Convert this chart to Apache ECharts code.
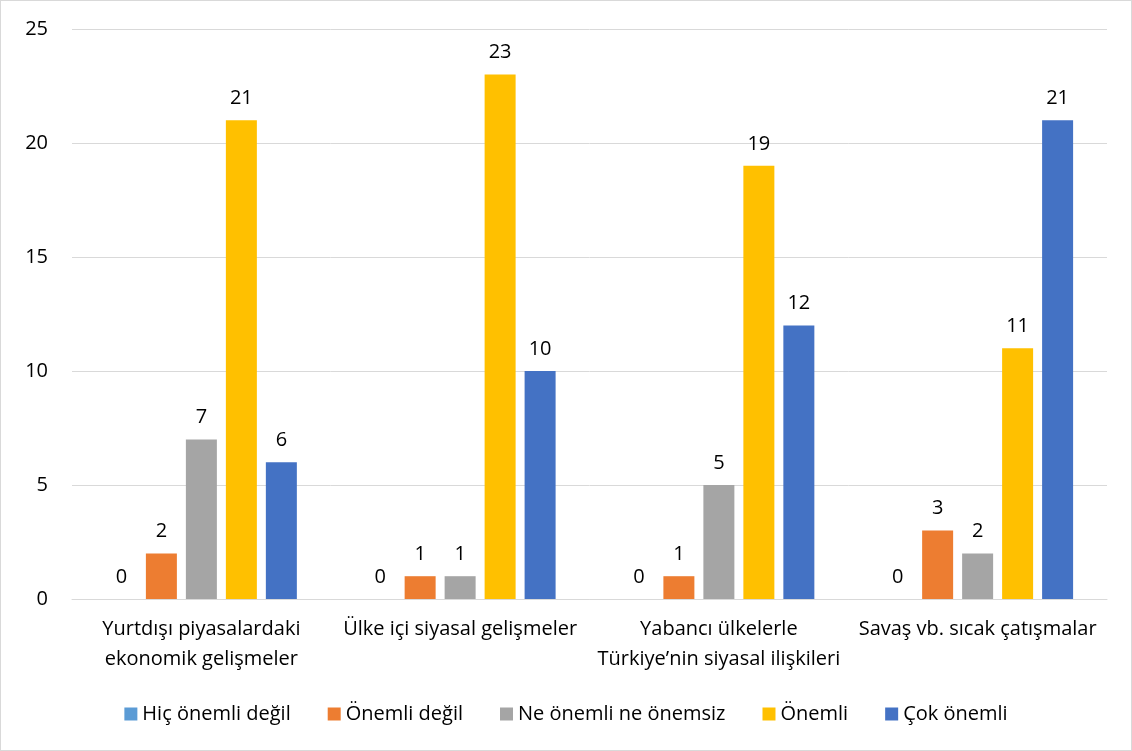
<!DOCTYPE html>
<html>
<head>
<meta charset="utf-8">
<script src="https://cdn.jsdelivr.net/npm/echarts@6/dist/echarts.min.js"></script>
<style>
  html, body { margin: 0; padding: 0; background: #fff; }
  #chart { width: 1132px; height: 751px; box-sizing: border-box; border: 1px solid #d9d9d9; }
</style>
</head>
<body>
<div id="chart"></div>
<script>
// kategoriler ve seriler
const categories = [
  'Yurtdışı piyasalardaki\nekonomik gelişmeler',
  'Ülke içi siyasal gelişmeler',
  'Yabancı ülkelerle\nTürkiye’nin siyasal ilişkileri',
  'Savaş vb. sıcak çatışmalar'
];
const seriesNames = ['Hiç önemli değil', 'Önemli değil', 'Ne önemli ne önemsiz', 'Önemli', 'Çok önemli'];
const hicOnemliDegil = [0, 0, 0, 0];
const onemliDegil = [2, 1, 1, 3];
const neOnemliNeOnemsiz = [7, 1, 5, 2];
const onemli = [21, 23, 19, 11];
const cokOnemli = [6, 10, 12, 21];
const yTicks = [0, 5, 10, 15, 20, 25];

const colors = ['#5B9BD5', '#ED7D31', '#A5A5A5', '#FFC000', '#4472C4'];
const allValues = [hicOnemliDegil, onemliDegil, neOnemliNeOnemsiz, onemli, cokOnemli];
const font = '"Open Sans", "Noto Sans", sans-serif';
const fs = 20;

const chart = echarts.init(document.getElementById('chart'), null, { renderer: 'canvas' });

const series = seriesNames.map((name, i) => ({
  name: name,
  type: 'bar',
  data: allValues[i],
  barWidth: 31,
  barGap: '29%',
  itemStyle: { color: colors[i] },
  label: {
    show: true,
    position: 'top',
    distance: 12,
    color: '#000',
    fontSize: fs,
    fontFamily: font
  }
}));

chart.setOption({
  animation: false,
  textStyle: { fontFamily: font },
  grid: { left: 71, right: 24, top: 28, bottom: 151, containLabel: false },
  legend: {
    bottom: 21,
    left: 'center',
    itemWidth: 13,
    itemHeight: 13,
    itemGap: 37,
    icon: 'rect',
    textStyle: { fontSize: fs, color: '#000', fontFamily: font },
    data: seriesNames
  },
  xAxis: {
    type: 'category',
    data: categories,
    axisLine: { lineStyle: { color: '#d9d9d9', width: 1 } },
    axisTick: { show: false },
    axisLabel: { color: '#000', fontSize: fs, lineHeight: 30, margin: 15, fontFamily: font, interval: 0 }
  },
  yAxis: {
    type: 'value',
    min: yTicks[0],
    max: yTicks[yTicks.length - 1],
    interval: 5,
    axisLine: { show: false },
    axisTick: { show: false },
    splitLine: { lineStyle: { color: '#d9d9d9', width: 1 } },
    axisLabel: { color: '#000', fontSize: fs, margin: 24, fontFamily: font }
  },
  series: series
});
</script>
</body>
</html>
